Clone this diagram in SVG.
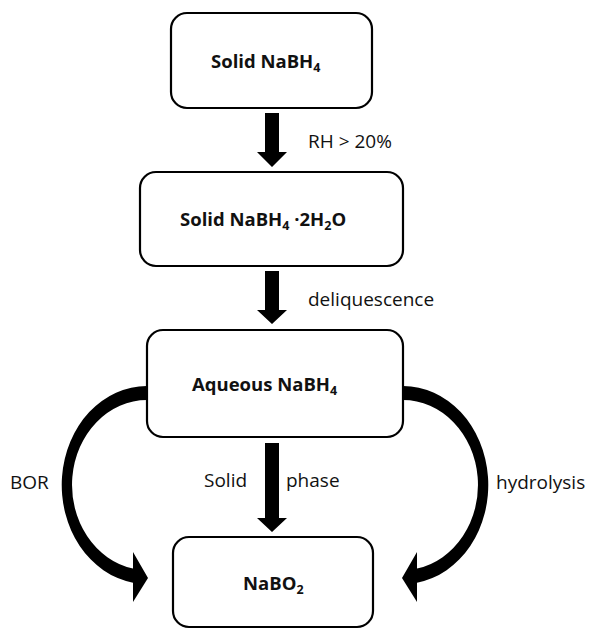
<svg xmlns="http://www.w3.org/2000/svg" width="590" height="630" viewBox="0 0 590 630">
<style>
.box{fill:#fff;stroke:#000;stroke-width:2.2}
.arr{fill:#000;stroke:none}
.lbl{font-family:"Open Sans","Liberation Sans",sans-serif;font-size:19px;fill:#111}
.nl{font-family:"Open Sans","Liberation Sans",sans-serif;font-size:18.5px;font-weight:bold;fill:#111}
.sub{font-size:12.5px}
</style>
<rect width="590" height="630" fill="#fff"/>
<g id="connectors">
<polygon class="arr" points="265,113 279,113 279,152 287,152 272,167 257,152 265,152"/>
<polygon class="arr" points="265,271 279,271 279,310 287,310 272,324 257,310 265,310"/>
<polygon class="arr" points="265,443 279,443 279,518 287,518 272,532 257,518 265,518"/>
<path id="curveL" class="arr" d="M147,386 A85,99 0 0 0 133,582.7 L133,602 L148,578 L133,552 L133,568.5 A75,85 0 0 1 147,400 Z"/>
<path id="curveR" class="arr" transform="translate(550,0) scale(-1,1)" d="M147,386 A85,99 0 0 0 133,582.7 L133,602 L148,578 L133,552 L133,568.5 A75,85 0 0 1 147,400 Z"/>
<text class="lbl" x="308" y="148">RH &gt; 20%</text>
<text class="lbl" x="308" y="306">deliquescence</text>
<text class="lbl" x="204" y="487">Solid</text>
<text class="lbl" x="286" y="487">phase</text>
<text class="lbl" x="10" y="489">BOR</text>
<text class="lbl" x="496" y="489">hydrolysis</text>
</g>
<g id="node1">
<rect class="box" x="171" y="13" width="201" height="95" rx="16"/>
<text class="nl" x="211" y="68">Solid NaBH<tspan class="sub" dy="4">4</tspan></text>
</g>
<g id="node2">
<rect class="box" x="140" y="172" width="263" height="94" rx="16"/>
<text class="nl" x="180" y="226">Solid NaBH<tspan class="sub" dy="4">4</tspan><tspan dy="-4"> ·2H</tspan><tspan class="sub" dy="4">2</tspan><tspan dy="-4">O</tspan></text>
</g>
<g id="node3">
<rect class="box" x="147" y="330" width="256" height="107" rx="16"/>
<text class="nl" x="192" y="391">Aqueous NaBH<tspan class="sub" dy="4">4</tspan></text>
</g>
<g id="node4">
<rect class="box" x="173" y="537" width="200" height="90" rx="16"/>
<text class="nl" x="243" y="590">NaBO<tspan class="sub" dy="4">2</tspan></text>
</g>
</svg>
